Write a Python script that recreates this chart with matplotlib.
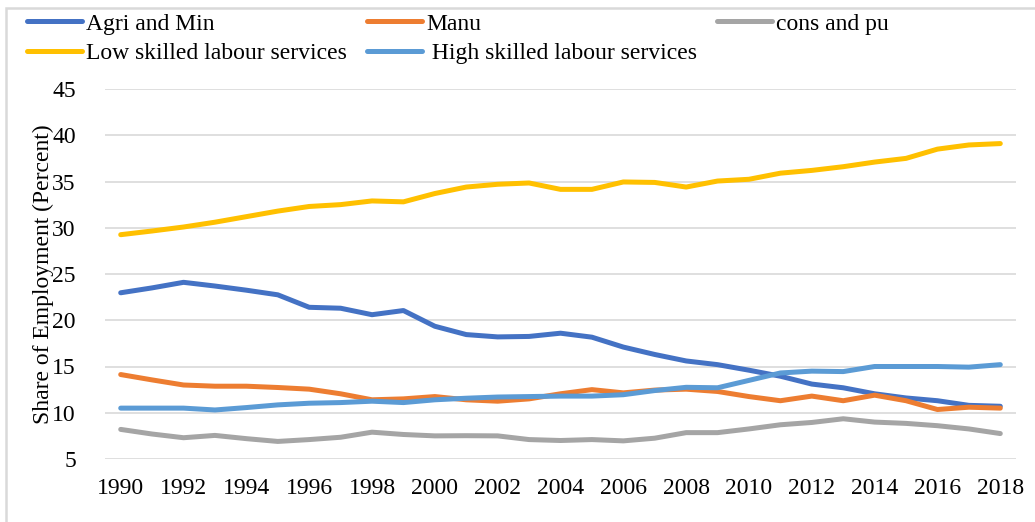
import matplotlib.pyplot as plt
from matplotlib.patches import Rectangle

years = list(range(1990, 2019))

agri_min = [22.97, 23.5, 24.1, 23.7, 23.25, 22.75, 21.4, 21.3, 20.6, 21.05,
            19.35, 18.45, 18.2, 18.25, 18.6, 18.17, 17.1, 16.3, 15.6, 15.2,
            14.6, 13.95, 13.1, 12.7, 12.05, 11.6, 11.3, 10.8, 10.7]
manu = [14.13, 13.55, 13.0, 12.87, 12.87, 12.73, 12.55, 12.05, 11.4, 11.5,
        11.75, 11.4, 11.25, 11.5, 12.05, 12.5, 12.15, 12.45, 12.55, 12.3,
        11.75, 11.3, 11.8, 11.3, 11.9, 11.3, 10.35, 10.6, 10.5]
cons_pu = [8.2, 7.7, 7.3, 7.55, 7.2, 6.9, 7.1, 7.35, 7.9, 7.65,
           7.5, 7.52, 7.5, 7.1, 7.0, 7.1, 6.96, 7.25, 7.85, 7.85,
           8.25, 8.7, 8.95, 9.35, 8.99, 8.85, 8.6, 8.25, 7.75]
low_skilled = [29.25, 29.65, 30.08, 30.6, 31.2, 31.8, 32.3, 32.5, 32.9, 32.8,
               33.7, 34.4, 34.7, 34.84, 34.15, 34.15, 34.95, 34.9, 34.4, 35.05,
               35.24, 35.9, 36.2, 36.6, 37.1, 37.5, 38.5, 38.95, 39.1]
high_skilled = [10.5, 10.5, 10.5, 10.3, 10.56, 10.85, 11.03, 11.1, 11.25, 11.1,
                11.4, 11.57, 11.7, 11.75, 11.8, 11.8, 11.95, 12.4, 12.75, 12.7,
                13.5, 14.3, 14.5, 14.45, 15.0, 15.0, 15.0, 14.93, 15.2]

series = [
    ("Agri and Min", agri_min, "#4472C4"),
    ("Manu", manu, "#ED7D31"),
    ("cons and pu", cons_pu, "#A5A5A5"),
    ("Low skilled labour services", low_skilled, "#FFC000"),
    (" High skilled labour services", high_skilled, "#5B9BD5"),
]

plt.rcParams['font.family'] = ['Liberation Serif', 'DejaVu Serif']
plt.rcParams['font.size'] = 17

W, H = 1035, 522
fig = plt.figure(figsize=(W / 100, H / 100), dpi=100)
ax = fig.add_axes([105 / W, 1 - 459 / H, 911 / W, 370 / H])

lines = {}
for name, vals, color in series:
    ln, = ax.plot(years, vals, color=color, linewidth=3.6,
                  solid_capstyle='round', solid_joinstyle='round', label=name)
    lines[name] = ln

ax.set_xlim(1989.5, 2018.5)
ax.set_ylim(5, 45)
ax.set_xticks(years[::2])
ax.set_yticks(range(5, 50, 5))
ax.tick_params(axis='both', length=0, colors='black')
ax.tick_params(axis='y', pad=21)
ax.tick_params(axis='x', pad=14)
ax.grid(axis='y', color='#D9D9D9', linewidth=1.2)
ax.set_axisbelow(True)
for sp in ax.spines.values():
    sp.set_visible(False)

ax.set_ylabel("Share of Employment (Percent)")
ax.yaxis.set_label_coords(-0.056, 0.5)

# legend laid out row by row: matplotlib fills columns first, so reorder
order = ["Agri and Min", "Low skilled labour services", "Manu",
         " High skilled labour services", "cons and pu"]
fig.legend([lines[k] for k in order], order, ncol=3, loc='upper left',
           bbox_to_anchor=(27 / W, 1 - 13 / H), frameon=False,
           borderpad=0, borderaxespad=0, handlelength=2.33,
           handletextpad=0.17, columnspacing=0.85, labelspacing=0.33)

# chart area border
fig.add_artist(Rectangle((6 / W, -0.1), 1.2, 1.1 - 8 / H, transform=fig.transFigure,
                         facecolor='none', edgecolor='#D9D9D9', linewidth=1.8))

fig.savefig("out.png", dpi=100)
